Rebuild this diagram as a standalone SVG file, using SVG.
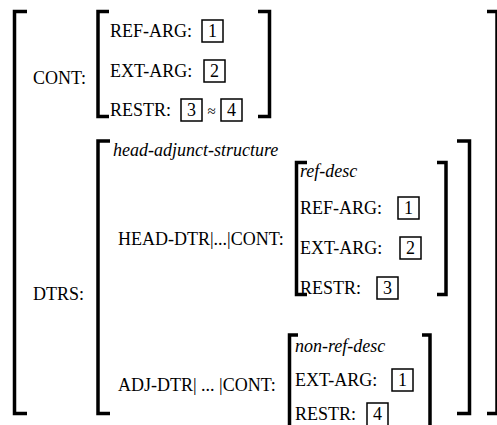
<svg xmlns="http://www.w3.org/2000/svg" width="497" height="425" viewBox="0 0 497 425">
<style>
text{font-family:"Liberation Serif","Times New Roman",serif;font-size:18px;fill:#000}
.it{font-style:italic}
.br{fill:none;stroke:#000;stroke-width:3.5;stroke-linejoin:miter;stroke-linecap:butt}
.box{fill:none;stroke:#000;stroke-width:1.5}
.num{text-anchor:middle}
.approx{font-size:15px;text-anchor:middle}
</style>
<rect width="497" height="425" fill="#fff"/>
<g id="outer-avm">
<path class="br" d="M27,11.5H14.5V413.5H27"/>
<path class="br" d="M487,11.5H497V413.5H487"/>
<text x="33" y="84">CONT:</text>
<text x="33" y="300">DTRS:</text>
</g>
<g id="cont-avm">
<path class="br" d="M109,11.5H98V116.5H109"/>
<path class="br" d="M258,11.5H269.5V116.5H258"/>
<text x="110" y="37">REF-ARG:</text>
<rect class="box" x="202" y="20" width="21" height="22"/>
<text class="num" x="212.5" y="37">1</text>
<text x="110" y="77">EXT-ARG:</text>
<rect class="box" x="204" y="60" width="21" height="22"/>
<text class="num" x="214.5" y="77">2</text>
<text x="110" y="116">RESTR:</text>
<rect class="box" x="181" y="99" width="21" height="22"/>
<text class="num" x="191.5" y="116">3</text>
<text class="approx" x="211.5" y="116">≈</text>
<rect class="box" x="221" y="99" width="21" height="22"/>
<text class="num" x="231.5" y="116">4</text>
</g>
<g id="head-adjunct-avm">
<path class="br" d="M110,141H98V413.5H110"/>
<path class="br" d="M457,141H469.5V413.5H457"/>
<text class="it" x="113" y="156">head-adjunct-structure</text>
<text x="118" y="245">HEAD-DTR|...|CONT:</text>
<text x="118" y="391">ADJ-DTR| ... |CONT:</text>
</g>
<g id="ref-desc-avm">
<path class="br" d="M307,162.5H296.5V294.5H307"/>
<path class="br" d="M437,162.5H446V294.5H437"/>
<text class="it" x="300" y="177">ref-desc</text>
<text x="300" y="214">REF-ARG:</text>
<rect class="box" x="398" y="197" width="21" height="22"/>
<text class="num" x="408.5" y="214">1</text>
<text x="300" y="254">EXT-ARG:</text>
<rect class="box" x="400" y="237" width="21" height="22"/>
<text class="num" x="410.5" y="254">2</text>
<text x="300" y="294">RESTR:</text>
<rect class="box" x="377" y="277" width="21" height="22"/>
<text class="num" x="387.5" y="294">3</text>
</g>
<g id="non-ref-desc-avm">
<path class="br" d="M298,335H289.5V440"/>
<path class="br" d="M422,335H430V440"/>
<text class="it" x="295" y="352">non-ref-desc</text>
<text x="295" y="386">EXT-ARG:</text>
<rect class="box" x="392" y="369" width="21" height="22"/>
<text class="num" x="402.5" y="386">1</text>
<text x="295" y="420">RESTR:</text>
<rect class="box" x="367" y="403" width="21" height="23"/>
<text class="num" x="377.5" y="420">4</text>
</g>
<g id="connectors"></g>
</svg>
